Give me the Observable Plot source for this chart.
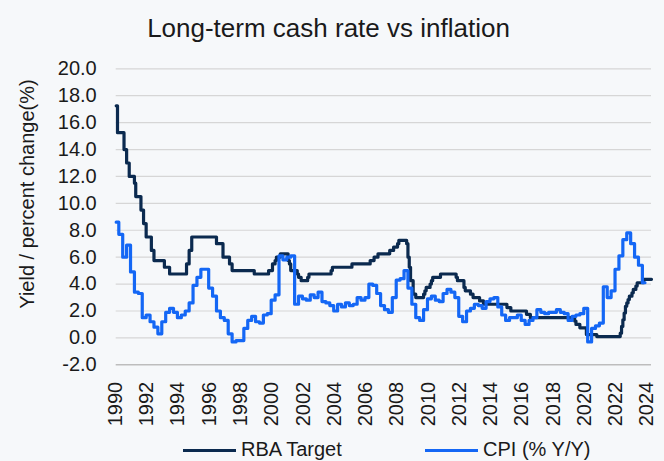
<!DOCTYPE html>
<html>
<head>
<meta charset="utf-8">
<script src="https://cdn.jsdelivr.net/npm/d3@7"></script>
<script src="https://cdn.jsdelivr.net/npm/@observablehq/plot@0.6"></script>
<style>
  html, body { margin: 0; padding: 0; background: #f6f8fa; }
  body { width: 664px; height: 461px; overflow: hidden; position: relative;
         font-family: "Liberation Sans", Arial, sans-serif; color: #1a1a1a; }
  #title { position: absolute; top: 12.7px; left: 0; width: 657px; text-align: center;
           font-size: 26px; line-height: 30px; white-space: nowrap; }
  #ytitle { position: absolute; left: 27px; top: 194px; font-size: 20px; line-height: 22px;
            white-space: nowrap; transform: translate(-50%, -50%) rotate(-90deg); }
  #chart { position: absolute; top: 50px; left: 0; }
  .sw { position: absolute; height: 3px; top: 449px; }
  .lt { position: absolute; top: 438px; font-size: 20px; line-height: 22px; white-space: nowrap; }
</style>
</head>
<body>
<div id="title">Long-term cash rate vs inflation</div>
<div id="ytitle">Yield / percent change(%)</div>
<div id="chart"></div>
<div id="legend"></div>
<script>
// ---- data ----
const seriesNames = ["RBA Target", "CPI (% Y/Y)"];
const seriesColors = ["#0b2a4f", "#1467f5"];

// RBA cash-rate target: month of each change and the new level
const rbaMonths = ["1990-02","1990-03","1990-08","1990-10","1990-12","1991-04","1991-05","1991-09","1991-11","1992-01","1992-05","1992-07","1993-03","1993-07","1994-08","1994-10","1994-12","1996-07","1996-12","1997-05","1997-07","1998-12","1999-11","2000-02","2000-04","2000-05","2000-08","2001-02","2001-03","2001-04","2001-09","2001-10","2001-12","2002-05","2002-06","2003-11","2003-12","2005-03","2006-05","2006-08","2006-11","2007-08","2007-11","2008-02","2008-03","2008-09","2008-10","2008-11","2008-12","2009-02","2009-04","2009-10","2009-11","2009-12","2010-03","2010-04","2010-05","2010-11","2011-11","2011-12","2012-05","2012-06","2012-10","2012-12","2013-05","2013-08","2015-02","2015-05","2016-05","2016-08","2019-06","2019-07","2019-10","2020-03","2020-11","2022-05","2022-06","2022-07","2022-08","2022-09","2022-10","2022-11","2022-12","2023-02","2023-03","2023-05","2023-06","2023-11","2024-05"];
const rbaValues = [17.25,15.25,14.0,13.0,12.0,11.5,10.5,9.5,8.5,7.5,6.5,5.75,5.25,4.75,5.5,6.5,7.5,7.0,6.0,5.5,5.0,4.75,5.0,5.5,5.75,6.0,6.25,5.75,5.5,5.0,4.75,4.5,4.25,4.5,4.75,5.0,5.25,5.5,5.75,6.0,6.25,6.5,6.75,7.0,7.25,7.0,6.0,5.25,4.25,3.25,3.0,3.25,3.5,3.75,4.0,4.25,4.5,4.75,4.5,4.25,3.75,3.5,3.25,3.0,2.75,2.5,2.25,2.0,1.75,1.5,1.25,1.0,0.75,0.25,0.1,0.35,0.85,1.35,1.85,2.35,2.6,2.85,3.1,3.35,3.6,3.85,4.1,4.35,4.35];

// CPI year-on-year %, quarterly, 1990 Q1 .. 2023 Q4 (held through each quarter)
const cpiFirstQuarter = 1990;
const cpiValues = [
  8.6, 7.7, 6.0, 6.9,   4.9, 3.4, 3.3, 1.5,   1.7, 1.2, 0.8, 0.3,   1.2, 1.9, 2.2, 1.9,
  1.5, 1.7, 2.0, 2.6,   3.9, 4.5, 5.1, 5.1,   3.7, 3.1, 2.0, 1.5,   1.3, 0.3, -0.3, -0.2,
  -0.2, 0.7, 1.3, 1.6,  1.2, 1.1, 1.7, 1.8,   2.8, 3.2, 6.1, 5.8,   6.0, 6.1, 2.5, 3.1,
  2.9, 2.8, 3.2, 3.0,   3.4, 2.7, 2.6, 2.4,   2.0, 2.5, 2.3, 2.6,   2.4, 2.5, 3.0, 2.8,
  3.0, 4.0, 3.9, 3.3,   2.4, 2.1, 1.9, 3.0,   4.3, 4.4, 5.0, 3.7,   2.5, 1.5, 1.3, 2.1,
  2.9, 3.1, 2.8, 2.7,   3.3, 3.6, 3.4, 3.0,   1.6, 1.2, 2.0, 2.2,   2.5, 2.4, 2.2, 2.7,
  2.9, 3.0, 2.3, 1.7,   1.3, 1.5, 1.5, 1.7,   1.3, 1.0, 1.3, 1.5,   2.1, 1.9, 1.8, 1.9,
  1.9, 2.1, 1.9, 1.8,   1.3, 1.6, 1.7, 1.8,   2.2, -0.3, 0.7, 0.9,  1.1, 3.8, 3.0, 3.5,
  5.1, 6.1, 7.3, 7.8,   7.0, 6.0, 5.4, 4.1
];
const dataStart = "1990-02";
const dataEnd = "2024-05";
const cpiEnd = "2023-12";

const xTickYears = [1990,1992,1994,1996,1998,2000,2002,2004,2006,2008,2010,2012,2014,2016,2018,2020,2022,2024];
const yTicks = [-2,0,2,4,6,8,10,12,14,16,18,20];

// ---- build ----
const toYear = s => { const [y, m] = s.split("-").map(Number); return y + (m - 1) / 12; };
const x0 = toYear(dataStart), x1 = toYear(dataEnd);
const rba = rbaMonths.map((m, i) => ({date: toYear(m), value: rbaValues[i]}));
const cpi = cpiValues.map((v, i) => ({date: Math.max(cpiFirstQuarter + i / 4, x0), value: v}));
cpi.push({date: toYear(cpiEnd), value: cpiValues[cpiValues.length - 1]});

const chart = Plot.plot({
  width: 664,
  height: 395,
  marginLeft: 115.7,
  marginRight: 13,
  marginTop: 18.3,
  marginBottom: 80.7,
  style: {background: "transparent", fontFamily: "'Liberation Sans', Arial, sans-serif", fontSize: "20px", color: "#1a1a1a", overflow: "visible"},
  x: {domain: [x0, x1]},
  y: {domain: [-2, 20]},
  marks: [
    Plot.gridY(yTicks.filter(t => t > -2), {stroke: "#d6d6d6", strokeOpacity: 1, strokeWidth: 1.2}),
    Plot.ruleY([-2], {stroke: "#bdbdbd", strokeWidth: 1.5}),
    Plot.axisY(yTicks, {tickSize: 0, tickPadding: 19.5, tickFormat: d => d.toFixed(1), label: null, fontSize: 20}),
    Plot.axisX(xTickYears.map(y => y + 1 / 24), {tickSize: 0, tickRotate: -90, tickPadding: 17, tickFormat: d => String(Math.floor(d)), label: null, fontSize: 20}),
    Plot.line(rba, {x: "date", y: "value", curve: "step-after", stroke: seriesColors[0], strokeWidth: 3.2, strokeLinejoin: "round"}),
    Plot.line(cpi, {x: "date", y: "value", curve: "step-after", stroke: seriesColors[1], strokeWidth: 3.2, strokeLinejoin: "round"})
  ]
});
document.getElementById("chart").appendChild(chart);

// legend
const legend = document.getElementById("legend");
const swLeft = [183, 425], txtLeft = [241, 483];
seriesNames.forEach((name, i) => {
  const sw = document.createElement("div");
  sw.className = "sw";
  sw.style.left = swLeft[i] + "px";
  sw.style.width = "53px";
  sw.style.background = seriesColors[i];
  legend.appendChild(sw);
  const t = document.createElement("div");
  t.className = "lt";
  t.style.left = txtLeft[i] + "px";
  t.textContent = name;
  legend.appendChild(t);
});
</script>
</body>
</html>
